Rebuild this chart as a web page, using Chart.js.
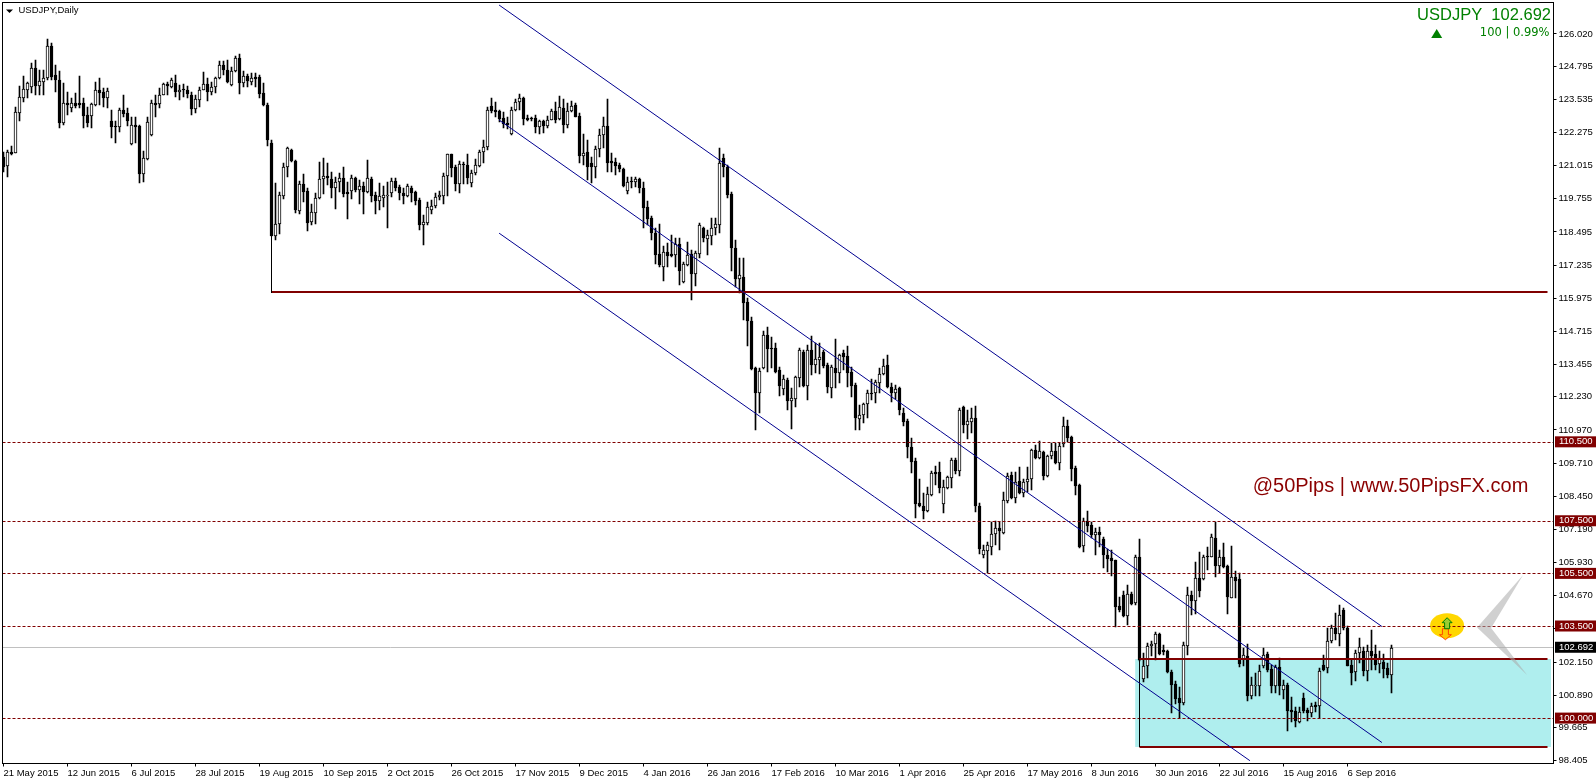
<!DOCTYPE html>
<html>
<head>
<meta charset="utf-8">
<title>USDJPY, Daily</title>
<script src="https://cdn.jsdelivr.net/npm/chart.js@4"></script>
<style>
    html, body { margin: 0; padding: 0; background: #fff; overflow: hidden; }
    canvas { display: block; }
</style>
</head>
<body>
<canvas id="priceChart" width="1596" height="784"></canvas>
<script>
// Daily bars
const opens = [
    121.36,121.00,121.53,121.51,123.03,123.60,123.91,124.02,124.71,124.05,
    124.21,124.33,125.56,124.46,124.29,122.65,123.38,123.19,123.38,123.38,
    123.38,122.94,122.89,123.33,123.91,123.80,123.60,122.71,122.52,122.47,
    123.12,123.00,121.84,122.55,122.52,120.68,121.28,122.17,123.38,123.37,
    123.71,124.12,123.99,124.14,123.83,123.93,123.89,123.70,123.18,123.53,
    123.91,124.12,123.83,123.99,124.33,124.84,124.67,124.08,124.61,125.09,
    124.17,124.42,124.21,124.37,124.38,123.76,123.34,121.87,118.35,118.78,
    119.87,120.97,121.61,121.19,119.30,120.32,120.05,118.88,119.23,119.77,
    120.49,120.61,120.49,120.18,120.38,120.53,120.00,120.06,120.56,120.10,
    120.24,120.01,120.51,119.89,119.68,119.80,119.87,119.96,120.42,120.19,
    119.96,119.87,120.16,120.01,119.71,118.77,118.85,119.34,119.47,119.81,
    119.87,120.63,121.44,120.95,120.33,121.08,121.03,120.34,120.72,121.01,
    121.52,121.71,123.27,123.12,123.09,122.81,122.62,122.20,123.12,123.42,
    123.59,122.81,122.81,122.81,122.50,122.71,122.53,122.77,123.09,122.79,
    123.19,122.58,123.10,123.32,122.90,121.39,121.52,121.10,120.98,121.63,
    122.17,122.52,121.18,121.15,121.05,120.89,120.06,120.43,120.41,120.51,
    120.15,119.43,119.01,118.44,117.66,117.18,117.72,117.64,117.63,118.02,
    116.59,117.24,117.64,116.91,117.66,118.64,118.24,118.35,118.63,118.77,
    121.29,120.98,119.92,117.87,116.72,116.77,115.83,115.10,113.32,112.39,
    113.31,114.58,114.07,114.08,113.25,112.54,112.87,112.08,112.16,112.96,
    113.94,112.65,114.01,113.44,113.63,113.93,113.44,112.58,113.32,113.15,
    113.88,113.78,113.17,112.66,111.40,111.52,111.94,112.39,112.36,112.77,
    113.10,113.44,112.61,112.39,112.55,111.60,111.31,110.31,109.78,108.18,
    108.07,107.90,108.50,109.36,109.36,108.14,108.77,109.16,109.84,109.42,
    111.83,111.17,111.27,111.43,108.07,106.22,106.38,106.54,107.00,107.25,
    107.04,108.28,109.25,108.38,109.03,108.59,109.01,109.12,110.20,109.89,
    110.13,109.22,109.97,110.16,109.73,110.42,111.12,110.69,109.51,108.87,
    106.56,107.52,107.35,106.99,107.08,106.83,106.21,106.09,106.02,104.27,
    104.69,103.91,104.74,104.38,106.13,101.51,101.98,102.74,102.82,103.20,
    102.61,102.57,101.76,101.32,100.77,100.61,102.77,104.69,104.48,105.33,
    105.31,106.16,106.13,106.87,105.81,106.13,105.80,104.60,105.37,105.29,
    102.27,102.38,100.87,101.22,101.22,101.98,102.46,101.90,101.25,101.95,
    101.09,101.28,100.33,100.28,99.88,100.78,100.33,100.23,100.52,100.48,
    102.03,101.91,102.95,103.43,103.22,104.13,103.43,102.04,101.76,102.51,
    102.56,101.81,102.56,102.45,102.06,102.14,101.91,101.66
];
const highs = [
    121.55,121.61,121.76,123.26,124.04,124.42,124.21,124.90,125.03,124.65,
    124.65,125.83,125.66,124.84,124.61,124.14,123.80,123.57,123.76,124.42,
    123.57,123.26,123.41,124.21,124.33,123.95,123.95,123.15,122.72,123.19,
    123.70,123.19,122.88,122.88,122.56,121.57,122.88,123.51,123.70,123.95,
    124.14,124.21,124.33,124.46,124.10,124.12,124.04,123.83,123.72,124.02,
    124.59,124.33,124.21,124.40,124.99,124.99,125.03,124.78,125.18,125.26,
    124.61,124.50,124.52,124.52,124.46,124.14,123.38,121.99,120.37,120.02,
    121.10,121.74,121.66,121.23,120.43,120.70,120.15,119.56,119.96,121.17,
    121.29,121.10,120.79,120.60,120.72,120.95,120.41,120.66,120.60,120.47,
    120.41,121.23,120.60,120.03,120.34,120.24,120.41,120.53,120.53,120.28,
    120.15,120.32,120.24,120.05,119.77,119.14,119.65,119.71,119.96,120.06,
    120.72,121.44,121.44,121.04,121.19,121.17,121.46,120.85,121.28,121.61,
    121.99,123.23,123.57,123.45,123.13,123.07,122.88,123.26,123.54,123.74,
    123.61,122.94,122.88,122.94,122.77,122.77,122.90,123.16,123.45,123.66,
    123.54,123.38,123.48,123.38,123.00,122.22,121.99,121.33,121.76,122.39,
    122.88,123.55,121.48,121.29,121.10,120.91,120.60,120.57,120.57,120.53,
    120.41,119.67,119.10,118.63,118.80,117.97,118.06,118.38,118.25,118.25,
    117.37,118.13,117.81,117.78,118.85,118.70,118.57,119.01,119.01,121.67,
    121.46,121.04,120.03,118.19,117.49,117.49,115.97,115.27,113.37,113.31,
    114.73,114.89,114.49,114.26,113.37,113.06,112.93,112.55,113.02,114.07,
    114.01,114.20,114.54,114.26,114.26,114.01,113.50,113.44,114.41,113.86,
    114.01,114.16,113.37,112.74,111.92,111.98,112.49,112.89,112.87,113.31,
    113.65,113.82,112.77,112.68,112.61,111.79,111.37,110.65,109.89,109.11,
    108.56,108.79,109.41,109.60,109.77,109.07,109.22,109.89,109.89,111.79,
    111.88,111.73,111.79,111.88,108.18,106.60,106.73,107.49,107.52,107.49,
    108.63,109.35,109.39,109.39,109.55,109.09,109.55,110.23,110.40,110.56,
    110.18,110.02,110.46,110.46,110.46,111.45,111.35,110.74,109.60,108.92,
    107.61,107.90,107.49,107.23,107.30,106.92,106.43,106.41,106.03,104.63,
    104.85,105.08,104.82,106.22,106.81,102.48,102.86,102.93,103.30,103.27,
    102.80,102.61,101.85,101.43,101.21,102.92,104.99,104.86,105.97,106.35,
    106.22,106.54,107.02,107.49,106.41,106.69,105.84,106.56,105.62,105.52,
    102.67,102.82,101.59,101.72,102.04,102.67,102.53,102.04,102.04,102.29,
    101.47,101.34,100.83,100.45,100.45,100.96,100.39,100.58,100.64,101.91,
    102.42,103.43,103.56,104.00,104.32,104.19,103.52,102.23,102.61,103.05,
    102.71,102.80,103.37,102.80,102.55,102.46,102.10,102.80
];
const lows = [
    120.78,120.59,121.42,121.48,122.72,123.45,123.57,123.76,123.72,123.72,
    123.72,124.27,124.27,123.83,122.43,122.56,122.94,123.07,123.19,123.19,
    122.43,122.50,122.43,123.28,123.32,123.23,123.19,122.08,121.89,122.31,
    122.88,122.52,121.80,121.86,120.37,120.41,121.23,122.14,122.88,123.19,
    123.70,123.70,123.95,123.64,123.51,123.61,123.57,122.94,123.00,123.26,
    123.89,123.47,123.70,123.76,124.31,124.46,124.14,124.04,124.59,123.74,
    124.02,123.99,124.08,124.02,123.60,123.28,121.76,118.35,118.19,118.40,
    119.75,120.59,121.17,119.20,119.18,119.65,118.54,118.76,118.80,119.75,
    119.92,120.28,119.80,119.38,120.03,119.81,119.00,119.73,120.03,119.56,
    119.18,119.99,119.65,119.18,119.33,119.46,118.66,119.84,120.06,119.71,
    119.56,119.84,119.65,119.52,118.57,118.01,118.77,119.18,119.39,119.71,
    119.56,119.86,120.57,120.06,119.96,120.32,120.32,120.22,120.66,120.98,
    121.10,121.61,123.00,122.88,122.66,122.43,122.39,122.18,123.10,123.13,
    122.56,122.72,122.71,122.27,122.20,122.27,122.43,122.75,122.62,122.75,
    122.27,122.43,123.07,122.85,121.10,121.04,120.47,120.34,120.53,121.33,
    121.69,120.79,120.79,120.66,120.79,120.22,119.94,120.15,120.22,119.96,
    118.66,118.76,118.19,117.28,117.18,116.63,117.18,117.56,117.18,116.48,
    116.54,117.21,115.91,116.44,117.49,118.13,117.62,118.00,118.38,118.44,
    120.60,119.80,117.02,116.42,116.19,115.15,114.17,113.25,110.97,111.63,
    113.27,113.18,113.31,113.15,112.27,112.30,111.73,110.99,111.85,112.61,
    112.59,112.11,113.06,113.12,113.10,113.31,112.36,112.17,112.55,112.74,
    113.25,112.61,112.23,110.97,110.97,111.22,111.41,112.11,111.98,112.36,
    113.06,112.55,112.03,112.13,111.54,111.12,109.89,109.32,107.61,108.06,
    107.59,107.87,108.47,108.88,108.56,107.83,108.74,108.75,109.30,109.22,
    110.84,110.64,110.87,107.87,106.26,106.09,105.52,106.23,106.60,106.41,
    107.02,108.18,108.35,108.21,108.54,108.44,108.63,108.69,109.88,109.85,
    109.07,109.17,109.85,109.68,109.45,110.34,110.53,109.04,108.50,106.48,
    106.34,107.10,106.85,106.22,106.54,105.71,105.58,105.43,103.49,104.06,
    103.87,103.56,104.32,104.32,102.20,101.40,101.56,102.36,102.23,102.42,
    102.42,101.72,100.20,100.56,100.01,100.52,102.42,103.94,103.96,104.64,
    105.27,105.65,106.13,105.40,105.52,105.74,103.98,104.57,104.57,101.97,
    102.01,100.68,100.76,100.87,100.86,101.91,101.78,100.96,100.96,100.90,
    100.73,99.54,99.88,99.67,99.85,100.23,99.92,100.05,100.26,100.01,
    101.81,101.75,102.86,102.99,102.77,103.37,101.98,101.28,101.41,102.10,
    101.60,101.41,101.85,101.85,101.75,101.56,101.53,100.99
];
const closes = [
    120.97,121.52,121.46,123.04,123.61,123.93,124.14,124.71,124.05,124.22,
    124.33,125.56,124.40,124.29,122.65,123.38,123.33,123.38,123.28,123.33,
    122.91,122.65,123.36,123.91,123.79,123.60,123.84,122.50,122.47,123.13,
    122.98,122.72,122.55,122.50,120.68,121.29,122.66,123.38,123.33,123.72,
    124.12,124.03,124.27,123.83,123.91,123.89,123.74,123.18,123.55,123.89,
    124.12,123.80,123.99,124.35,124.84,124.67,124.21,124.61,125.09,124.17,
    124.41,124.22,124.33,124.32,123.75,123.32,121.99,118.35,118.78,119.89,
    120.97,121.70,121.18,119.33,120.32,120.03,118.85,119.24,119.77,120.49,
    120.62,120.54,120.18,120.38,120.53,119.94,119.95,120.53,120.09,120.23,
    120.03,120.53,119.87,119.68,119.86,119.89,119.90,120.42,120.18,119.96,
    119.87,120.24,119.99,119.68,118.77,118.86,119.43,119.48,119.81,119.90,
    120.63,121.44,120.94,120.32,121.08,121.03,120.56,120.72,121.03,121.52,
    121.71,123.12,123.10,123.07,122.79,122.60,122.58,123.12,123.42,123.57,
    122.80,122.75,122.79,122.50,122.70,122.52,122.77,123.08,122.77,123.23,
    122.58,123.08,123.29,122.88,121.38,121.51,120.98,120.98,121.63,122.17,
    122.52,121.13,121.10,121.01,120.87,120.24,120.39,120.38,120.49,120.18,
    119.42,119.00,118.44,117.63,117.24,117.72,117.59,117.59,118.02,117.02,
    117.28,117.62,116.91,117.68,118.76,118.25,118.37,118.63,118.78,121.13,
    120.95,119.91,117.87,116.72,116.85,115.81,115.10,113.30,112.39,113.20,
    114.58,114.06,114.05,113.17,112.64,112.91,112.08,112.18,112.98,114.01,
    112.64,114.01,113.44,113.67,113.73,113.40,112.59,113.37,113.15,113.81,
    113.75,113.15,112.64,111.41,111.52,111.94,112.36,112.34,112.80,113.08,
    113.42,112.61,112.36,112.54,111.73,111.29,110.31,109.77,108.16,108.08,
    107.90,108.52,109.32,109.31,108.78,108.79,109.17,109.83,109.41,111.73,
    111.16,111.30,111.41,108.08,106.46,106.40,106.59,107.00,107.23,107.12,
    108.30,109.22,108.38,109.01,108.56,109.01,109.12,110.20,109.92,110.17,
    109.23,109.98,110.16,109.73,110.36,111.12,110.68,109.50,108.85,106.51,
    107.52,107.32,106.99,107.10,106.99,106.22,106.07,105.99,104.25,104.13,
    103.91,104.72,104.37,106.13,102.23,101.98,102.76,102.84,103.22,102.46,
    102.53,101.76,101.29,100.75,100.61,102.80,104.69,104.48,105.33,104.86,
    106.13,106.13,106.89,105.81,106.13,105.78,104.64,105.37,105.23,102.08,
    102.41,100.87,101.27,101.25,101.80,102.43,101.85,101.25,101.95,101.25,
    101.28,100.30,100.25,99.90,100.26,100.30,100.23,100.48,100.45,101.80,
    101.85,102.95,103.43,103.22,103.93,103.43,102.01,101.75,102.48,102.71,
    101.81,102.56,102.38,102.04,102.29,101.89,101.66,102.692
];

// Axis labels
const dateLabels = ['21 May 2015','12 Jun 2015','6 Jul 2015','28 Jul 2015','19 Aug 2015','10 Sep 2015',
    '2 Oct 2015','26 Oct 2015','17 Nov 2015','9 Dec 2015','4 Jan 2016','26 Jan 2016','17 Feb 2016',
    '10 Mar 2016','1 Apr 2016','25 Apr 2016','17 May 2016','8 Jun 2016','30 Jun 2016','22 Jul 2016',
    '15 Aug 2016','6 Sep 2016'];
const barsPerDateLabel = 16;
const priceTicks = [126.020,124.795,123.535,122.275,121.015,119.755,118.495,117.235,115.975,114.715,
    113.455,112.230,110.970,109.710,108.450,107.190,105.930,104.670,103.410,102.150,100.890,99.665,98.405];

// Drawn objects, as [bar index, price]
const upperChannel = [[123.9,127.12],[344.6,103.50]];
const middleChannel = [[123.9,122.75],[344.6,99.09]];
const lowerChannel = [[123.9,118.45],[311.6,98.40]];
const dashedLevels = [110.5,107.5,105.5,103.5,100.0];
const supportLevel = 116.18;
const boxTop = 102.23;
const boxBottom = 98.92;
const lastPrice = 102.692;
const chevron = [[379.9,105.46],[368.4,103.46],[380.9,101.66],[371.9,103.44]];
const signalSpot = [360.9,103.53];

const xMin = -0.25, xMax = 387.5;
const yMin = 98.293, yMax = 127.217;

const mainFont = '"Liberation Sans", Arial, sans-serif';
const darkRed = '#800000';

function lineSet(points, color, width, dash, order) {
    return {
        type: 'line',
        data: points.map(p => ({ x: p[0], y: p[1] })),
        borderColor: color,
        borderWidth: width,
        borderDash: dash || [],
        pointRadius: 0,
        tension: 0,
        order: order || 1
    };
}

// bodies and wicks are floating bars
const wickSet = {
    type: 'bar',
    data: highs.map((h, i) => ({ x: i, y: [lows[i], h] })),
    backgroundColor: '#000',
    barThickness: 1,
    grouped: false,
    order: 6,
    snapBars: true
};
const bodySet = {
    type: 'bar',
    data: opens.map((o, i) => ({ x: i, y: [o, closes[i]] })),
    backgroundColor: opens.map((o, i) => closes[i] >= o ? '#fff' : '#000'),
    borderColor: '#000',
    borderWidth: 1,
    borderSkipped: false,
    barThickness: 3,
    minBarLength: 1,
    grouped: false,
    order: 5,
    snapBars: true
};

const boxSet = lineSet([[282.9,boxTop],[386.9,boxTop]], 'rgba(0,0,0,0)', 0, null, 10);
boxSet.fill = { target: { value: boxBottom } };
boxSet.backgroundColor = '#AFEEEE';

const datasets = [boxSet, wickSet, bodySet];
datasets.push(lineSet([[xMin,lastPrice],[xMax,lastPrice]], '#C0C0C0', 1, null, 8));
dashedLevels.forEach(v => datasets.push(lineSet([[xMin,v],[xMax,v]], darkRed, 1, [3,2], 2)));
[upperChannel, middleChannel, lowerChannel].forEach(c => datasets.push(lineSet(c, '#000090', 1)));
datasets.push(lineSet([[67,118.35],[67,supportLevel]], '#000', 1));
datasets.push(lineSet([[284,boxTop],[284,boxBottom]], '#000', 1));
datasets.push(lineSet([[67,supportLevel],[386,supportLevel]], darkRed, 2));
datasets.push(lineSet([[284,boxTop],[386,boxTop]], darkRed, 2));
datasets.push(lineSet([[284,boxBottom],[386,boxBottom]], darkRed, 2));
datasets.forEach(d => { if (d.type === 'line') d.snapFlat = d.data[0].y === d.data[1].y; });

// keeps everything on whole pixels like the terminal does
const pixelSnap = {
    id: 'pixelSnap',
    afterDatasetsUpdate(chart) {
        chart.data.datasets.forEach((d, n) => {
            const meta = chart.getDatasetMeta(n);
            if (d.snapBars) {
                meta.data.forEach(el => {
                    el.y = Math.round(el.y);
                    el.base = Math.round(el.base);
                });
            } else if (d.snapFlat) {
                const shift = d.borderWidth % 2 ? 0.5 : 0;
                meta.data.forEach(el => { el.y = Math.floor(el.y) + shift; });
            }
        });
    }
};

function drawBoxLabel(ctx, y, text, fill) {
    ctx.fillStyle = fill;
    ctx.fillRect(1555, y - 6, 41, 11);
    ctx.fillStyle = '#fff';
    ctx.font = '9.5px ' + mainFont;
    ctx.textAlign = 'left';
    ctx.textBaseline = 'middle';
    ctx.fillText(text, 1559, y - 0.5);
}

function arrowPath(ctx, pts) {
    ctx.beginPath();
    pts.forEach((p, i) => i ? ctx.lineTo(p[0], p[1]) : ctx.moveTo(p[0], p[1]));
    ctx.closePath();
    ctx.fill();
    ctx.stroke();
}

const overlays = {
    id: 'overlays',
    beforeDatasetsDraw(chart) {
        const ctx = chart.ctx;
        const cx = chart.scales.x.getPixelForValue(signalSpot[0]);
        const cy = chart.scales.y.getPixelForValue(signalSpot[1]);
        ctx.save();
        ctx.fillStyle = '#FFD700';
        ctx.beginPath();
        ctx.ellipse(cx, cy, 17, 12.5, 0, 0, Math.PI * 2);
        ctx.fill();
        ctx.restore();
    },
    afterDraw(chart) {
        const { ctx, chartArea, scales } = chart;
        const px = v => scales.x.getPixelForValue(v);
        const py = v => scales.y.getPixelForValue(v);
        ctx.save();

        // frame
        ctx.strokeStyle = '#000';
        ctx.lineWidth = 1;
        ctx.strokeRect(chartArea.left, chartArea.top, chartArea.right - chartArea.left, chartArea.bottom - chartArea.top);

        // grey chevron
        ctx.fillStyle = 'rgba(170,170,170,0.55)';
        ctx.beginPath();
        chevron.forEach((p, i) => i ? ctx.lineTo(px(p[0]), py(p[1])) : ctx.moveTo(px(p[0]), py(p[1])));
        ctx.closePath();
        ctx.fill();

        // arrows on the yellow spot
        const cx = px(signalSpot[0]), cy = py(signalSpot[1]);
        ctx.lineWidth = 1;
        ctx.strokeStyle = '#FF4500';
        ctx.fillStyle = '#FFC800';
        const dx = cx - 1.7;
        arrowPath(ctx, [[dx-3,cy+3],[dx+3,cy+3],[dx+3,cy+9],[dx+6,cy+9],[dx,cy+14],[dx-6,cy+9],[dx-3,cy+9]]);
        ctx.strokeStyle = '#008000';
        ctx.fillStyle = '#9ACD32';
        arrowPath(ctx, [[cx,cy-8],[cx+5,cy-3],[cx+2.5,cy-3],[cx+2.5,cy+3],[cx-2.5,cy+3],[cx-2.5,cy-3],[cx-5,cy-3]]);

        // level labels on the price axis
        dashedLevels.forEach(v => drawBoxLabel(ctx, py(v), v.toFixed(3), darkRed));
        drawBoxLabel(ctx, py(lastPrice), lastPrice.toFixed(3), '#000');

        // chart caption
        ctx.fillStyle = '#000';
        ctx.beginPath();
        ctx.moveTo(6, 9.5);
        ctx.lineTo(13, 9.5);
        ctx.lineTo(9.5, 13);
        ctx.closePath();
        ctx.fill();
        ctx.font = '9.5px ' + mainFont;
        ctx.textAlign = 'left';
        ctx.textBaseline = 'middle';
        ctx.fillText('USDJPY,Daily', 18.5, 10.5);

        // quote box
        ctx.fillStyle = '#008000';
        ctx.font = '16.5px ' + mainFont;
        ctx.textAlign = 'right';
        ctx.textBaseline = 'alphabetic';
        ctx.fillText('USDJPY  102.692', 1551, 19.5);
        ctx.font = '11.5px "DejaVu Sans", sans-serif';
        ctx.textBaseline = 'middle';
        ctx.fillText('100 | 0.99%', 1549.5, 33);
        ctx.beginPath();
        ctx.moveTo(1436.7, 29);
        ctx.lineTo(1442.2, 38);
        ctx.lineTo(1431.2, 38);
        ctx.closePath();
        ctx.fill();

        // watermark
        ctx.fillStyle = '#8B0000';
        ctx.font = '20px ' + mainFont;
        ctx.textAlign = 'left';
        ctx.textBaseline = 'alphabetic';
        ctx.fillText('@50Pips | www.50PipsFX.com', 1252.7, 491.5);
        ctx.restore();
    }
};

new Chart(document.getElementById('priceChart'), {
    type: 'bar',
    data: { datasets: datasets },
    plugins: [pixelSnap, overlays],
    options: {
        responsive: false,
        animation: false,
        devicePixelRatio: 1,
        layout: { autoPadding: false, padding: { left: 2.5, top: 2.5, right: 0, bottom: 0 } },
        plugins: { legend: { display: false }, title: { display: false }, tooltip: { enabled: false } },
        scales: {
            x: {
                type: 'linear',
                offset: false,
                min: xMin,
                max: xMax,
                afterFit: s => { s.height = 20.5; s.paddingLeft = 0; s.paddingRight = 0; },
                afterBuildTicks: s => { s.ticks = dateLabels.map((_, k) => ({ value: k * barsPerDateLabel })); },
                grid: { drawOnChartArea: false, drawTicks: true, tickLength: 3, color: '#000', offset: false },
                border: { display: false },
                ticks: {
                    autoSkip: false,
                    maxRotation: 0,
                    align: 'start',
                    padding: 1,
                    color: '#000',
                    font: { family: mainFont, size: 9.5 },
                    callback: v => dateLabels[v / barsPerDateLabel]
                }
            },
            y: {
                type: 'linear',
                position: 'right',
                beginAtZero: false,
                min: yMin,
                max: yMax,
                afterFit: s => { s.width = 42.5; s.paddingTop = 0; s.paddingBottom = 0; },
                afterBuildTicks: s => { s.ticks = priceTicks.map(v => ({ value: v })); },
                grid: { drawOnChartArea: false, drawTicks: true, tickLength: 3, color: '#000' },
                border: { display: false },
                ticks: {
                    autoSkip: false,
                    padding: 2,
                    color: '#000',
                    font: { family: mainFont, size: 9.5 },
                    callback: v => v.toFixed(3)
                }
            }
        }
    }
});
</script>
</body>
</html>
